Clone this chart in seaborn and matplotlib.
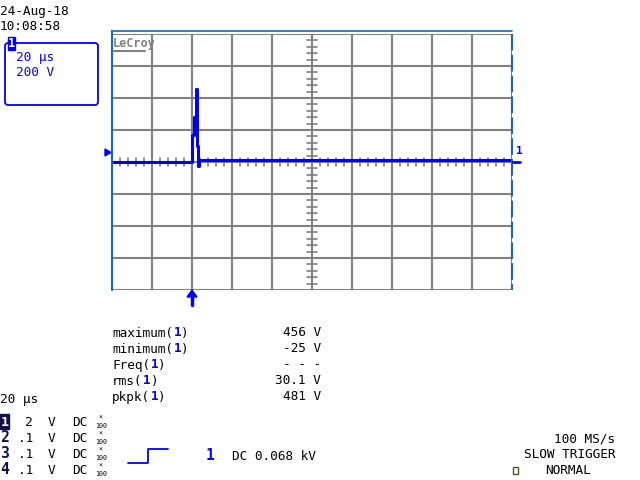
import numpy as np
import pandas as pd
import matplotlib
matplotlib.use("Agg")
import matplotlib.pyplot as plt
import seaborn as sns
from matplotlib.patches import FancyBboxPatch, Rectangle, Polygon
from matplotlib.lines import Line2D

# trace of channel 1 (time in us relative to trigger, volts)
time_us = [-40, -20, 0.0, 0.2, 1.2, 1.8, 2.2, 2.4, 2.8, 3.6, 20, 60, 100, 160]
volts = [2, 2, 2, 169, 281, 406, 456, 100, -25, 12, 12, 12, 12, 12]

# measurements
meas_names = ["maximum", "minimum", "Freq", "rms", "pkpk"]
meas_values = ["456 V", "-25 V", "- - -", "30.1 V", "481 V"]

# channel settings
chan_ids = ["1", "2", "3", "4"]
chan_scales = ["2", ".1", ".1", ".1"]

time_div = "20 μs"
volt_div = "200 V"

W, H = 640, 480
BLUE = "#0000ff"
NAVY = "#10104a"
GREY = "#808080"
MONO = "DejaVu Sans Mono"

sns.set_style("white")
plt.rcParams["font.family"] = [MONO]

fig = plt.figure(figsize=(6.4, 4.8), dpi=100)
fig.patch.set_facecolor("white")


def px(x, y):
    return x / W, 1 - y / H


def txt(x, y, s, ha="left", color="black", size=9.2, weight="normal"):
    fig.text(*px(x, y), s, ha=ha, va="center", color=color,
             fontsize=size, fontweight=weight, family=MONO)


# grid area
gl, gr, gt, gb = 112, 512, 34, 290
ax = fig.add_axes([gl / W, 1 - gb / H, (gr - gl) / W, (gb - gt) / H])
ax.set_xlim(-40, 160)
ax.set_ylim(-800, 800)
ax.set_xticks(np.arange(-40, 161, 20))
ax.set_yticks(np.arange(-800, 801, 200))
ax.grid(True, color=GREY, lw=1.5)
ax.tick_params(length=0, labelbottom=False, labelleft=False)
for s in ax.spines.values():
    s.set_visible(False)

# center crosshair minor ticks
for v in np.arange(-800, 801, 40):
    ax.plot([57.5, 62.5], [v, v], color=GREY, lw=1.2, zorder=1)
for t in np.arange(-40, 161, 4):
    ax.plot([t, t], [-25, 25], color=GREY, lw=1.2, zorder=1)

df = pd.DataFrame({"t": time_us, "v": volts})
sns.lineplot(data=df, x="t", y="v", ax=ax, color=BLUE, lw=2.2,
             drawstyle="steps-post", estimator=None, sort=False, zorder=5)
ax.set_xlabel("")
ax.set_ylabel("")

# frame decorations
fig.add_artist(Line2D(*zip(px(112, 31), px(512, 31)), color="#2060c0", lw=1.2))
fig.add_artist(Line2D(*zip(px(112, 31), px(112, 290)), color="#2060c0", lw=1.5))
fig.add_artist(Line2D(*zip(px(512, 34), px(512, 290)), color="#2060c0", lw=1.5,
                      ls=(0, (8, 2))))

# LeCroy logo
txt(113, 43, "LeCroy", color=GREY, size=8.6, weight="bold")
fig.add_artist(Line2D(*zip(px(113, 51), px(145, 51)), color=GREY, lw=1.5))

# left offset marker and right channel marker
fig.add_artist(Polygon([px(105, 149), px(105, 156), px(111, 152.5)],
                       closed=True, color=BLUE, transform=fig.transFigure))
txt(516, 151, "1", color=BLUE, size=8, weight="bold")
fig.add_artist(Line2D(*zip(px(513, 162), px(520, 162)), color=BLUE, lw=2))

# trigger arrow
fig.add_artist(Line2D(*zip(px(192, 294), px(192, 305)), color=BLUE, lw=2.5))
fig.add_artist(Polygon([px(187, 297), px(197, 297), px(192, 290)],
                       closed=True, color=BLUE, transform=fig.transFigure))

# date / time
txt(0, 12, "24-Aug-18")
txt(0, 27, "10:08:58")

# channel box
fig.add_artist(FancyBboxPatch((5, H - 105), 93, 62,
                              boxstyle="round,pad=0,rounding_size=3",
                              fc="white", ec=BLUE, lw=1.3, transform=None))
fig.add_artist(Rectangle(px(8, 50), 7 / W, 13 / H, color=BLUE,
                         transform=fig.transFigure))
txt(11.5, 43.5, "1", color="white", size=8.5, weight="bold", ha="center")
txt(16, 58, time_div, color=BLUE)
txt(16, 73, volt_div, color=BLUE)

# measurements
for i, (name, val) in enumerate(zip(meas_names, meas_values)):
    y = 333 + i * 16
    txt(112, y, name + "(")
    x1 = 112 + (len(name) + 1) * 7.7
    txt(x1, y, "1", color=BLUE, weight="bold")
    txt(x1 + 7.7, y, ")")
    txt(321, y, val, ha="right")

# bottom-left channel table
txt(0, 399, time_div)
for i, (cid, sc) in enumerate(zip(chan_ids, chan_scales)):
    y = 422 + i * 16
    if i == 0:
        fig.add_artist(Rectangle(px(0, y + 7), 9 / W, 15 / H, color=NAVY,
                                 transform=fig.transFigure))
        txt(4.5, y, cid, color="white", size=9.5, weight="bold", ha="center")
    else:
        txt(4.5, y, cid, color=NAVY, size=10.5, weight="bold", ha="center")
    txt(33, y, sc, ha="right")
    txt(48, y, "V")
    txt(72, y, "DC")
    txt(101, y - 4.5, "×", size=4.8, ha="center")
    txt(101, y + 4, "100", size=4.8, ha="center")

# trigger symbol
fig.add_artist(Line2D([128 / W, 148 / W, 148 / W, 168 / W],
                      [1 - 463 / H, 1 - 463 / H, 1 - 449 / H, 1 - 449 / H],
                      color=BLUE, lw=1.3))
txt(210, 456, "1", color=BLUE, size=10.5, weight="bold", ha="center")
txt(232, 456, "DC 0.068 kV")

# bottom-right acquisition info
txt(615, 439, "100 MS/s", ha="right")
txt(615, 455, "SLOW TRIGGER", ha="right")
fig.add_artist(Rectangle(px(513, 474), 5 / W, 7 / H, fill=False, ec="#5a5020",
                         lw=1, transform=fig.transFigure))
txt(545, 471, "NORMAL")

fig.savefig("out.png", dpi=100)
